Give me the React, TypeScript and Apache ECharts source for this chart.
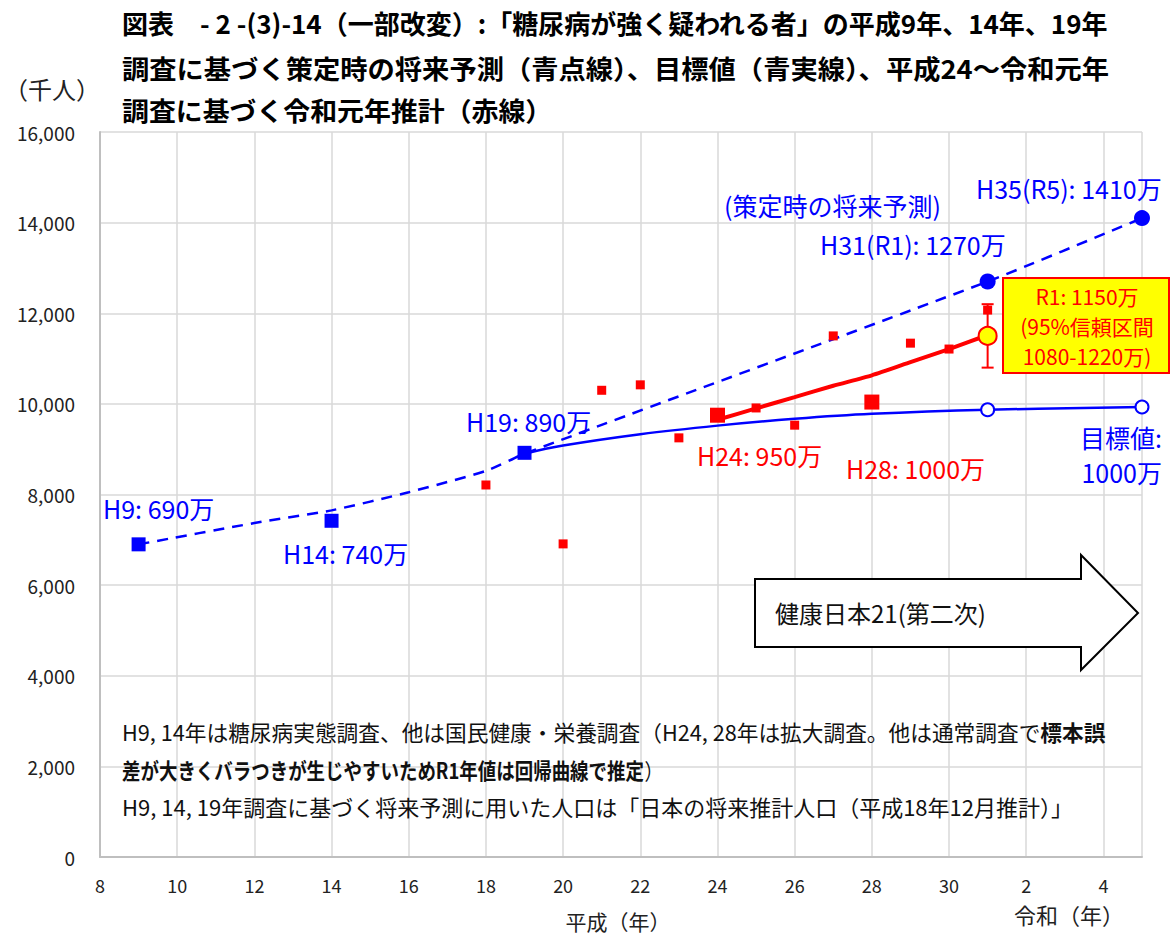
import React, { useEffect, useRef } from "react";
import * as echarts from "echarts";

// ---- data (thousand persons) ----
const projectionX = [9, 12, 14, 16, 18, 19, 31, 35];
const projectionY = [6900, 7370, 7650, 8050, 8520, 8900, 12700, 14100];
const projectionMarkX = [31, 35];
const projectionMarkY = [12700, 14100];

const targetX = [19, 20, 22, 24, 26, 28, 31, 35];
const targetY = [8900, 9080, 9330, 9520, 9670, 9780, 9870, 9930];
const targetMarkX = [31, 35];
const targetMarkY = [9870, 9930];

const surveyBlueX = [9, 14, 19];
const surveyBlueY = [6900, 7420, 8920];

const surveyRedX = [18, 20, 21, 22, 23, 25, 26, 27, 29, 30, 31];
const surveyRedY = [8210, 6910, 10300, 10420, 9250, 9910, 9530, 11500, 11340, 11210, 12070];

const expandedX = [24, 28];
const expandedY = [9750, 10040];

const estimateX = [24, 25, 26, 27, 28, 29, 30, 31];
const estimateY = [9650, 9900, 10150, 10400, 10630, 10920, 11210, 11520];

const r1X = 31;
const r1Y = 11500;
const r1High = 12200;
const r1Low = 10800;

const yTicks = [0, 2000, 4000, 6000, 8000, 10000, 12000, 14000, 16000];
const xTickValues = [8, 10, 12, 14, 16, 18, 20, 22, 24, 26, 28, 30, 32, 34];
const xTickLabels = ["8", "10", "12", "14", "16", "18", "20", "22", "24", "26", "28", "30", "2", "4"];

const zip = (xs: number[], ys: number[]) => xs.map((x, i) => [x, ys[i]]);

const FONT = "'Noto Sans CJK JP', 'Noto Sans', sans-serif";
const BLUE = "#0000FF";
const RED = "#FF0000";

export default function App() {
  const ref = useRef<HTMLDivElement>(null);
  useEffect(() => {
    if (!ref.current) return;
    const chart = echarts.init(ref.current, null, { renderer: "svg" });

    const txt = (
      text: string,
      x: number,
      y: number,
      size: number,
      color: string,
      align: string = "left",
      weight: string = "normal",
      scaleX: number = 1
    ) => ({
      type: "text",
      x,
      y,
      z: 100,
      scaleX,
      style: {
        text,
        fill: color,
        font: `${weight} ${size}px ${FONT}`,
        textAlign: align,
        textVerticalAlign: "middle",
      },
    });

    const option: any = {
      animation: false,
      backgroundColor: "#ffffff",
      grid: { left: 100, right: 30, top: 132, bottom: 80 },
      xAxis: {
        type: "value",
        min: 8,
        max: 35,
        interval: 2,
        axisLine: { show: true, lineStyle: { color: "#BFBFBF", width: 2 } },
        axisTick: { show: false },
        splitLine: { show: true, lineStyle: { color: "#D9D9D9", width: 1.5 } },
        axisLabel: {
          margin: 19,
          fontSize: 18,
          color: "#222",
          fontFamily: FONT,
          formatter: (v: number) => {
            const i = xTickValues.indexOf(v);
            return i >= 0 ? xTickLabels[i] : "";
          },
        },
      },
      yAxis: {
        type: "value",
        min: yTicks[0],
        max: yTicks[yTicks.length - 1],
        interval: 2000,
        axisLine: { show: true, lineStyle: { color: "#BFBFBF", width: 2 } },
        axisTick: { show: false },
        splitLine: { show: true, lineStyle: { color: "#D9D9D9", width: 1.5 } },
        axisLabel: {
          margin: 25,
          fontSize: 19,
          color: "#222",
          fontFamily: FONT,
          formatter: (v: number) => v.toLocaleString("en-US"),
        },
      },
      series: [
        {
          name: "projection",
          type: "line",
          data: zip(projectionX, projectionY),
          smooth: 0.2,
          symbol: "none",
          lineStyle: { color: BLUE, width: 2.5, type: [11, 8] },
          z: 2,
        },
        {
          name: "target",
          type: "line",
          data: zip(targetX, targetY),
          smooth: 0.4,
          symbol: "none",
          lineStyle: { color: BLUE, width: 2.5 },
          z: 2,
        },
        {
          name: "targetMarks",
          type: "scatter",
          data: zip(targetMarkX, targetMarkY),
          symbol: "circle",
          symbolSize: 13,
          itemStyle: { color: "#ffffff", borderColor: BLUE, borderWidth: 2, opacity: 1 },
          z: 4,
        },
        {
          name: "estimate",
          type: "line",
          data: zip(estimateX, estimateY),
          smooth: 0.2,
          symbol: "none",
          lineStyle: { color: RED, width: 4 },
          z: 3,
        },
        {
          name: "surveyRed",
          type: "scatter",
          data: zip(surveyRedX, surveyRedY),
          symbol: "rect",
          symbolSize: 9,
          itemStyle: { color: RED, opacity: 1 },
          z: 5,
        },
        {
          name: "expanded",
          type: "scatter",
          data: zip(expandedX, expandedY),
          symbol: "rect",
          symbolSize: 15,
          itemStyle: { color: RED, opacity: 1 },
          z: 5,
        },
        {
          name: "surveyBlue",
          type: "scatter",
          data: zip(surveyBlueX, surveyBlueY),
          symbol: "rect",
          symbolSize: 14,
          itemStyle: { color: BLUE, opacity: 1 },
          z: 5,
        },
        {
          name: "projectionMarks",
          type: "scatter",
          data: zip(projectionMarkX, projectionMarkY),
          symbol: "circle",
          symbolSize: 16,
          itemStyle: { color: BLUE, opacity: 1 },
          z: 5,
        },
        {
          name: "errorBar",
          type: "custom",
          data: [[r1X, r1High, r1Low]],
          encode: { x: 0, y: [1, 2] },
          z: 6,
          renderItem: (params: any, api: any) => {
            const hi = api.coord([api.value(0), api.value(1)]);
            const lo = api.coord([api.value(0), api.value(2)]);
            const w = 6;
            const st = { stroke: RED, lineWidth: 2 };
            return {
              type: "group",
              children: [
                { type: "line", shape: { x1: hi[0], y1: hi[1], x2: lo[0], y2: lo[1] }, style: st },
                { type: "line", shape: { x1: hi[0] - w, y1: hi[1], x2: hi[0] + w, y2: hi[1] }, style: st },
                { type: "line", shape: { x1: lo[0] - w, y1: lo[1], x2: lo[0] + w, y2: lo[1] }, style: st },
              ],
            };
          },
        },
        {
          name: "r1",
          type: "scatter",
          data: [[r1X, r1Y]],
          symbol: "circle",
          symbolSize: 18,
          itemStyle: { color: "#FFFF00", borderColor: RED, borderWidth: 2, opacity: 1 },
          z: 7,
        },
      ],
      graphic: [
        // title
        txt("図表　- 2 -(3)-14（一部改変）:「糖尿病が強く疑われる者」の平成9年、14年、19年", 122, 22, 26, "#000", "left", "bold"),
        txt("調査に基づく策定時の将来予測（青点線）、目標値（青実線）、平成24～令和元年", 122, 68, 26, "#000", "left", "bold", 1.05),
        txt("調査に基づく令和元年推計（赤線）", 122, 110, 26, "#000", "left", "bold", 1.035),
        txt("（千人）", 4, 88, 24, "#222"),
        txt("平成（年）", 618, 921, 21, "#222", "center"),
        txt("令和（年）", 1069, 914, 22, "#222", "center"),
        // blue labels
        txt("H9: 690万", 103, 508, 25, BLUE),
        txt("H14: 740万", 283, 553, 25, BLUE),
        txt("H19: 890万", 466, 421, 25, BLUE),
        txt("(策定時の将来予測)", 724, 205, 25, BLUE),
        txt("H35(R5): 1410万", 976, 188, 25, BLUE),
        txt("H31(R1): 1270万", 820, 244, 25, BLUE),
        txt("目標値:", 1162, 437, 25, BLUE, "right"),
        txt("1000万", 1162, 472, 25, BLUE, "right"),
        // red labels
        txt("H24: 950万", 697, 455, 25, RED),
        txt("H28: 1000万", 846, 468, 25, RED),
        // yellow box
        {
          type: "rect",
          z: 90,
          shape: { x: 1003, y: 278, width: 166, height: 95 },
          style: { fill: "#FFFF00", stroke: RED, lineWidth: 2 },
        },
        txt("R1: 1150万", 1087, 296, 21, RED, "center"),
        txt("(95%信頼区間", 1087, 326, 21, RED, "center"),
        txt("1080-1220万)", 1087, 356, 21, RED, "center"),
        // arrow
        {
          type: "polygon",
          z: 90,
          shape: {
            points: [
              [755, 579],
              [1081, 579],
              [1081, 555],
              [1138, 613],
              [1081, 670],
              [1081, 647],
              [755, 647],
            ],
          },
          style: { fill: "#ffffff", stroke: "#000", lineWidth: 2 },
        },
        txt("健康日本21(第二次)", 775, 612, 24, "#111"),
        // notes
        {
          type: "text",
          x: 122,
          y: 731,
          z: 100,
          style: {
            text: "{n|H9, 14年は糖尿病実態調査、他は国民健康・栄養調査（H24, 28年は拡大調査。他は通常調査で}{b|標本誤}",
            textVerticalAlign: "middle",
            rich: {
              n: { font: `normal 21.7px ${FONT}`, fill: "#111" },
              b: { font: `bold 21.7px ${FONT}`, fill: "#111" },
            },
          },
        },
        {
          type: "text",
          x: 122,
          y: 769,
          z: 100,
          scaleX: 0.84,
          style: {
            text: "{b|差が大きくバラつきが生じやすいためR1年値は回帰曲線で推定}{n|）}",
            textVerticalAlign: "middle",
            rich: {
              n: { font: `normal 22px ${FONT}`, fill: "#111" },
              b: { font: `bold 22px ${FONT}`, fill: "#111" },
            },
          },
        },
        txt("H9, 14, 19年調査に基づく将来予測に用いた人口は「日本の将来推計人口（平成18年12月推計）」", 122, 806, 22, "#111"),
      ],
    };

    chart.setOption(option);
    return () => chart.dispose();
  }, []);

  return (
    <div
      ref={ref}
      style={{ position: "fixed", left: 0, top: 0, width: 1172, height: 937, background: "#fff" }}
    />
  );
}
